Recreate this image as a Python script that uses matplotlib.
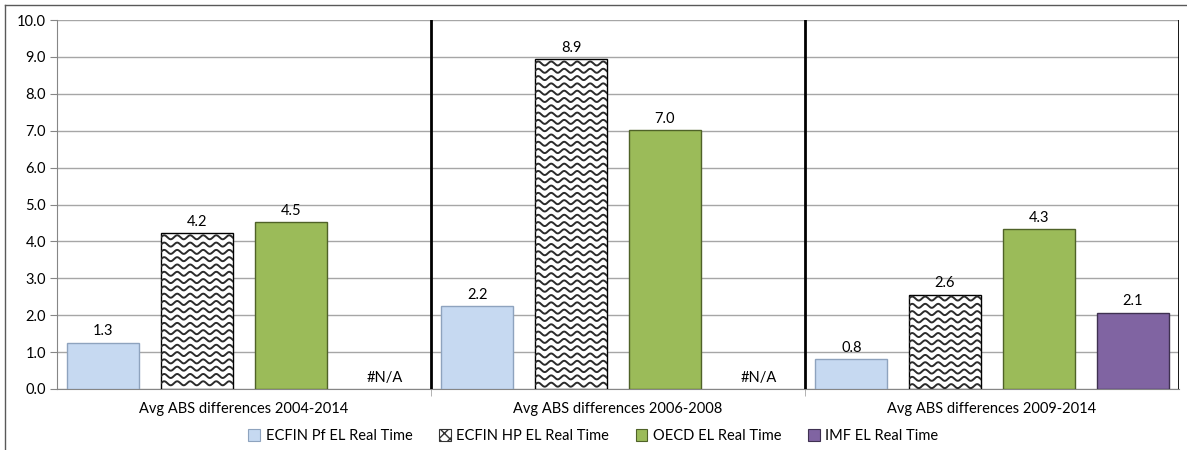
import numpy as np
import matplotlib
matplotlib.use('Agg')
import matplotlib.pyplot as plt
from matplotlib.patches import Patch
from matplotlib.lines import Line2D

plt.rcParams['font.family'] = ['Lato', 'DejaVu Sans']

categories = ['Avg ABS differences 2004-2014', 'Avg ABS differences 2006-2008',
              'Avg ABS differences 2009-2014']
series_names = ['ECFIN Pf EL Real Time', 'ECFIN HP EL Real Time',
                'OECD EL Real Time', 'IMF EL Real Time']
ecfin_pf = [1.26, 2.25, 0.82]
ecfin_hp = [4.22, 8.93, 2.56]
oecd = [4.53, 7.02, 4.33]
imf = [np.nan, np.nan, 2.07]
yticks = [0, 1, 2, 3, 4, 5, 6, 7, 8, 9, 10]

series = [ecfin_pf, ecfin_hp, oecd, imf]
faces = ['#C6D9F1', 'white', '#9BBB59', '#8064A2']
edges = ['#8EA3BE', 'black', '#4F6228', '#3F3151']

W, H = 1187, 450
fig = plt.figure(figsize=(W / 100, H / 100), dpi=100)
ax = fig.add_axes([57 / W, 1 - 389 / H, (1179 - 57) / W, (389 - 20) / H])
ax.set_xlim(-0.5, 2.5)
ax.set_ylim(0, 10)

x = np.arange(len(categories))
offsets = [-0.376, -0.1255, 0.1255, 0.376]
bw = 0.193
bars = []
for i, vals in enumerate(series):
    b = ax.bar(x + offsets[i], vals, bw, color=faces[i], edgecolor=edges[i],
               linewidth=1, zorder=3)
    bars.append(b)
    for xi, v in zip(x, vals):
        if np.isnan(v):
            ax.annotate('#N/A', (xi + offsets[i], 0), xytext=(0, 3),
                        textcoords='offset points', ha='center', va='bottom',
                        fontsize=10.5)
        else:
            ax.annotate(f'{v:.1f}', (xi + offsets[i], v), xytext=(0, 3),
                        textcoords='offset points', ha='center', va='bottom',
                        fontsize=10.5)

# wavy fill for the ECFIN HP bars, drawn in pixel space then mapped back
inv = ax.transData.inverted()
for rect in bars[1]:
    x0, y0 = ax.transData.transform((rect.get_x(), 0))
    x1, y1 = ax.transData.transform((rect.get_x() + rect.get_width(), rect.get_height()))
    xs = np.linspace(x0, x1, 200)
    yy = y1 - 4
    while yy > y0 + 1:
        ys = yy + 2.0 * np.sin((xs - x0) / 13.0 * 2 * np.pi)
        pts = inv.transform(np.column_stack([xs, ys]))
        ln, = ax.plot(pts[:, 0], pts[:, 1], color='#2b2b2b', lw=1.4, zorder=4)
        ln.set_clip_path(rect)
        yy -= 7.3

ax.set_yticks(yticks)
ax.set_yticklabels([f'{t:.1f}' for t in yticks], fontsize=10.5)
ax.set_xticks(x)
ax.set_xticklabels(categories, fontsize=10.5)
ax.set_xticks([0.5, 1.5], minor=True)
ax.tick_params(axis='x', which='major', length=0, pad=9)
ax.tick_params(axis='x', which='minor', length=5, color='#A6A6A6')
ax.tick_params(axis='y', length=5, color='#868686', pad=3)
ax.grid(axis='y', color='#A6A6A6', lw=1, zorder=0)
for s in ['top', 'right']:
    ax.spines[s].set_visible(False)
for s in ['left', 'bottom']:
    ax.spines[s].set_color('#868686')
for sep in [0.5, 1.5, 2.5]:
    ax.axvline(sep, color='black', lw=2, zorder=5)

handles = [Patch(facecolor=faces[i], edgecolor=edges[i], lw=0.8) for i in range(4)]
handles[1] = Patch(facecolor='white', edgecolor='#333333', hatch='xxx', lw=0.8)
fig.legend(handles, series_names, loc='center', bbox_to_anchor=(0.5, 1 - 436 / H),
           ncol=4, frameon=False, fontsize=10.5, handlelength=0.8, handleheight=0.8,
           handletextpad=0.4, columnspacing=1.8)

fig.add_artist(Line2D([5 / W, 5 / W], [0, 1 - 5 / H], color='#595959', lw=1))
fig.add_artist(Line2D([5 / W, 1], [1 - 5 / H, 1 - 5 / H], color='#595959', lw=1))

fig.savefig('out.png', dpi=100)
